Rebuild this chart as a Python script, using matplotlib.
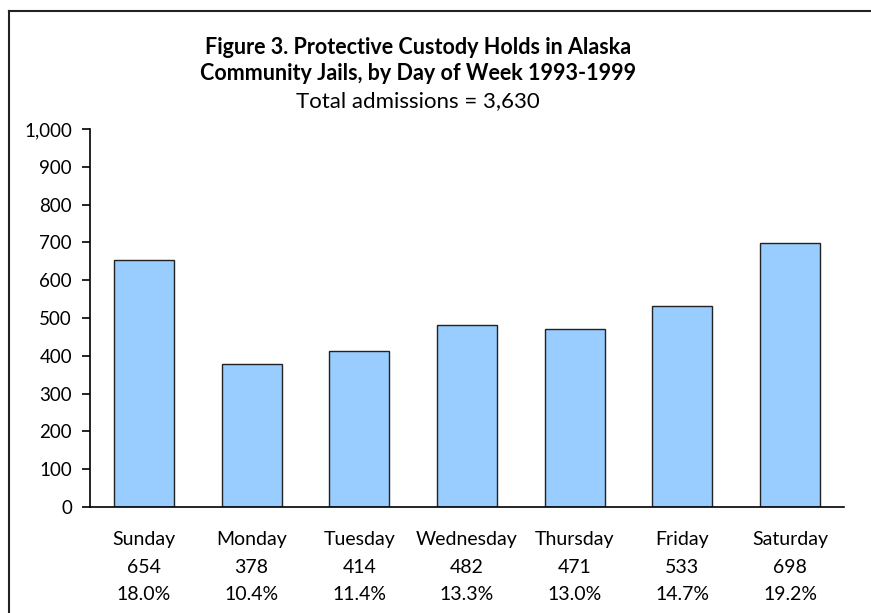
import matplotlib
matplotlib.use("Agg")
import matplotlib.pyplot as plt
from matplotlib.lines import Line2D

DAYS = ["Sunday", "Monday", "Tuesday", "Wednesday", "Thursday", "Friday", "Saturday"]
HOLDS = [654, 378, 414, 482, 471, 533, 698]
PCTS = ["18.0%", "10.4%", "11.4%", "13.3%", "13.0%", "14.7%", "19.2%"]
YTICKS = [0, 100, 200, 300, 400, 500, 600, 700, 800, 900, 1000]

plt.rcParams["font.family"] = ["Lato", "DejaVu Sans"]

fig = plt.figure(figsize=(8.71, 6.13), dpi=100)
ax = fig.add_axes([0.1033, 0.1729, 0.8657, 0.6167])

x = list(range(len(DAYS)))
ax.bar(x, HOLDS, width=0.557, color="#99ccff", edgecolor="#222222", linewidth=1.0)
ax.set_xlim(-0.5, len(DAYS) - 0.5)
ax.set_ylim(0, 1000)
ax.set_yticks(YTICKS)
ax.set_yticklabels([f"{v:,}" for v in YTICKS], fontsize=13.5)
ax.set_xticks(x)
ax.set_xticklabels([f"{d}\n{v}\n{p}" for d, v, p in zip(DAYS, HOLDS, PCTS)],
                   fontsize=14, linespacing=1.78)
ax.tick_params(axis="x", length=0, pad=17)
ax.tick_params(axis="y", length=6, width=1.2, pad=7, direction="out")
for s in ["top", "right"]:
    ax.spines[s].set_visible(False)
ax.spines["left"].set_linewidth(1.2)
ax.spines["bottom"].set_linewidth(1.2)

fig.text(0.48, 0.923, "Figure 3. Protective Custody Holds in Alaska",
         ha="center", va="center", fontsize=15.5, fontweight="bold")
fig.text(0.48, 0.880, "Community Jails, by Day of Week 1993-1999",
         ha="center", va="center", fontsize=15.5, fontweight="bold")
fig.text(0.48, 0.835, "Total admissions = 3,630",
         ha="center", va="center", fontsize=16)

# outer frame (top and left edges visible)
fig.add_artist(Line2D([0.0103, 1.0], [0.9825, 0.9825], color="#222222", linewidth=1.5))
fig.add_artist(Line2D([0.0103, 0.0103], [0.0, 0.9825], color="#222222", linewidth=1.5))

fig.savefig("out.png", dpi=100)
